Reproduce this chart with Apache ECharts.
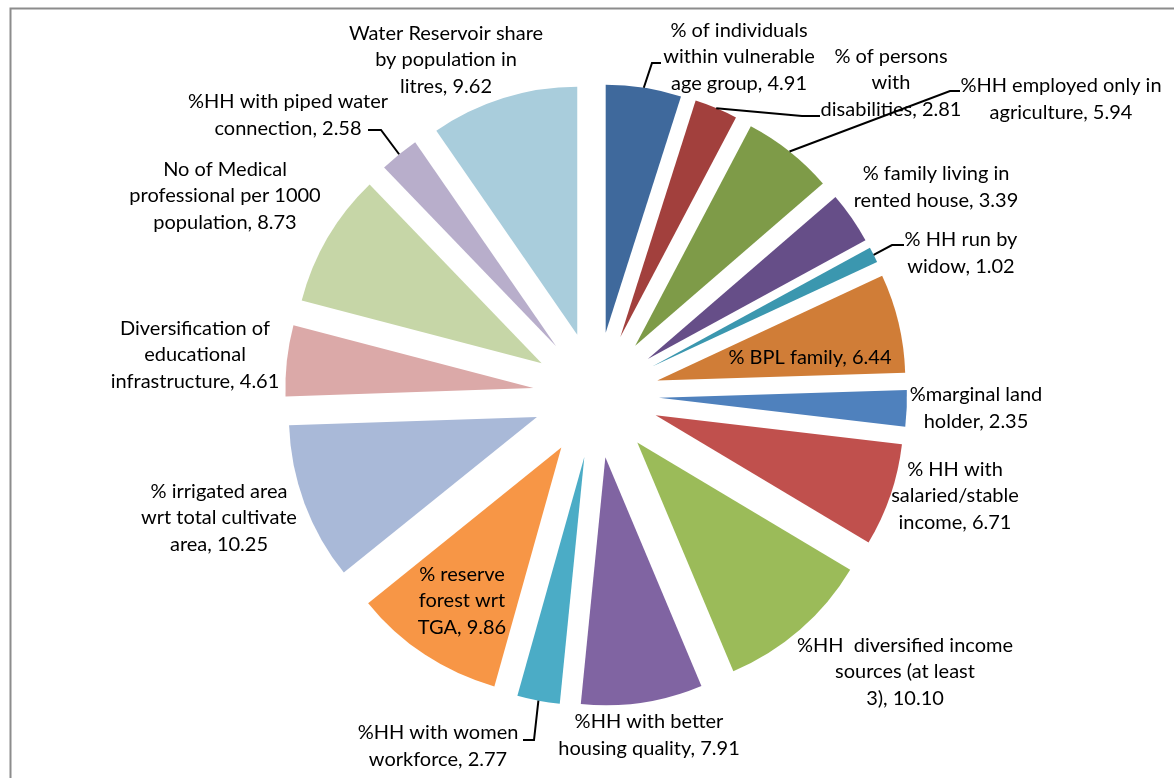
<!DOCTYPE html>
<html><head><meta charset="utf-8">
<script src="https://cdn.jsdelivr.net/npm/echarts@6/dist/echarts.min.js"></script>
<style>html,body{margin:0;padding:0;background:#fff}#c{width:1174px;height:778px}</style>
</head><body><div id="c"></div>
<script>
// Category names (line breaks as wrapped in the chart labels)
const categories = [
  "% of individuals\nwithin vulnerable\nage group",
  "% of persons\nwith\ndisabilities",
  "%HH employed only in\nagriculture",
  "% family living in\nrented house",
  "% HH run by\nwidow",
  "% BPL family",
  "%marginal land\nholder",
  "% HH with\nsalaried/stable\nincome",
  "%HH  diversified income\nsources (at least\n3)",
  "%HH with better\nhousing quality",
  "%HH with women\nworkforce",
  "% reserve\nforest wrt\nTGA",
  "% irrigated area\nwrt total cultivate\narea",
  "Diversification of\neducational\ninfrastructure",
  "No of Medical\nprofessional per 1000\npopulation",
  "%HH with piped water\nconnection",
  "Water Reservoir share\nby population in\nlitres"
];
const values = [4.91, 2.81, 5.94, 3.39, 1.02, 6.44, 2.35, 6.71, 10.10, 7.91, 2.77, 9.86, 10.25, 4.61, 8.73, 2.58, 9.62];
const colors = ["#3F699C", "#A2403D", "#7E9B48", "#664E88", "#3B97AF", "#D07D37",
  "#4F81BD", "#C0504D", "#9BBB59", "#8064A2", "#4BACC6", "#F79646",
  "#A9B9D8", "#DBA9A8", "#C6D6A7", "#B8AECB", "#A9CDDC"];

// Layout (annotation placement, not data)
const CX = 596, CY = 395, R = 248, OFFSET = 63;
const labelPos = [[739,57],[891,83],[1061,99],[936,187],[961,253],[810,358],[976,408],[955,496],
  [905,672],[649,735],[438,746],[462,601],[219,518],[195,355],[225,196],[288,115],[446,60]];
// leader lines: elbow point and end point near the label (null = no leader)
const leaders = [
  [[652,63],[661,63]], [[802,116],[820,116]], [[950,91],[960,91]], null, [[892,245],[904,245]],
  null, null, null, null, null, [[534,740],[523,740]], null, null, null, null, [[381,130],[368,130]], null
];

const total = values.reduce((a, b) => a + b, 0);
let cum = 0;
const midDirs = values.map(v => {
  const a = (cum + v / 2) / total * 2 * Math.PI; cum += v;
  return [Math.sin(a), -Math.cos(a)];
});

const FONT = '20px Lato';
const graphics = [{type: 'rect', left: 8, top: 6, shape: {width: 1250, height: 850},
  style: {fill: 'none', stroke: '#8c8c8c', lineWidth: 2}, silent: true, z: -1}];
categories.forEach((name, i) => {
  graphics.push({
    type: 'text', x: labelPos[i][0], y: labelPos[i][1], z: 100, silent: true,
    style: {text: name + ', ' + values[i].toFixed(2), font: FONT, fill: '#000',
      align: 'center', verticalAlign: 'middle', lineHeight: 26.5}
  });
  if (leaders[i]) {
    const d = midDirs[i];
    const start = [CX + (R + OFFSET) * d[0], CY + (R + OFFSET) * d[1]];
    graphics.push({
      type: 'polyline', z: 100, silent: true,
      shape: {points: [start, leaders[i][0], leaders[i][1]]},
      style: {stroke: '#000', lineWidth: 2, fill: 'none'}
    });
  }
});

const chart = echarts.init(document.getElementById('c'), null, {renderer: 'canvas'});
chart.setOption({
  animation: false,
  backgroundColor: '#fff',
  graphic: graphics,
  series: [{
    type: 'pie',
    center: [CX, CY],
    radius: R,
    startAngle: 90,
    clockwise: true,
    selectedMode: 'multiple',
    selectedOffset: OFFSET,
    avoidLabelOverlap: false,
    emphasis: {disabled: true},
    itemStyle: {borderWidth: 0},
    label: {show: false},
    labelLine: {show: false},
    data: values.map((v, i) => ({
      name: categories[i], value: v, selected: true,
      itemStyle: {color: colors[i]}
    }))
  }]
});
</script></body></html>
